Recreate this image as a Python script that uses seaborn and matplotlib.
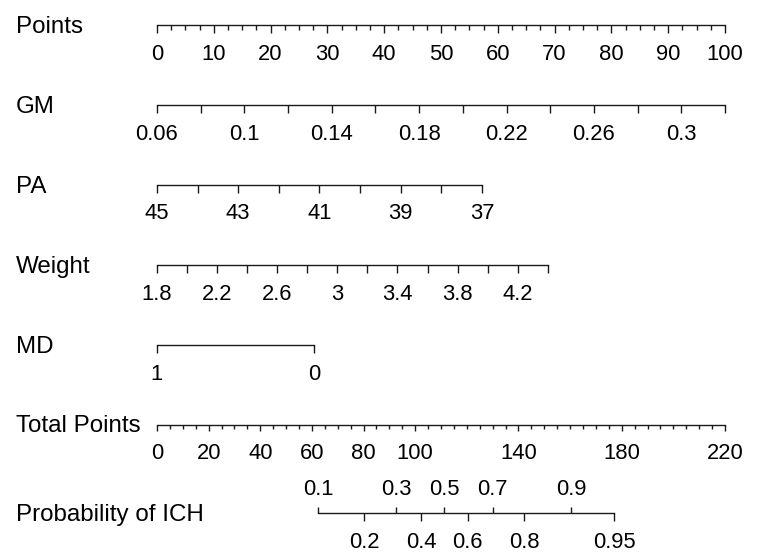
import numpy as np
import matplotlib
matplotlib.use("Agg")
import matplotlib.pyplot as plt
from matplotlib.ticker import FixedLocator, FixedFormatter
import seaborn as sns

# ---------------- data ----------------
points_ticks = [0, 2.5, 5, 7.5, 10, 12.5, 15, 17.5, 20, 22.5, 25, 27.5, 30, 32.5, 35, 37.5,
                40, 42.5, 45, 47.5, 50, 52.5, 55, 57.5, 60, 62.5, 65, 67.5, 70, 72.5, 75, 77.5,
                80, 82.5, 85, 87.5, 90, 92.5, 95, 97.5, 100]
points_labels = [0, 10, 20, 30, 40, 50, 60, 70, 80, 90, 100]

gm_ticks = [0.06, 0.08, 0.10, 0.12, 0.14, 0.16, 0.18, 0.20, 0.22, 0.24, 0.26, 0.28, 0.30, 0.32]
gm_labels = [0.06, 0.1, 0.14, 0.18, 0.22, 0.26, 0.3]
gm_points = [0, 100]          # points at first / last tick

pa_ticks = [45, 44, 43, 42, 41, 40, 39, 38, 37]
pa_labels = [45, 43, 41, 39, 37]
pa_points = [0, 57.2]

weight_ticks = [1.8, 2.0, 2.2, 2.4, 2.6, 2.8, 3.0, 3.2, 3.4, 3.6, 3.8, 4.0, 4.2, 4.4]
weight_labels = [1.8, 2.2, 2.6, 3, 3.4, 3.8, 4.2]
weight_points = [0, 68.8]

md_ticks = [1, 0]
md_labels = [1, 0]
md_points = [0, 27.6]

total_ticks = [0, 5, 10, 15, 20, 25, 30, 35, 40, 45, 50, 55, 60, 65, 70, 75, 80, 85, 90, 95,
               100, 105, 110, 115, 120, 125, 130, 135, 140, 145, 150, 155, 160, 165, 170, 175,
               180, 185, 190, 195, 200, 205, 210, 215, 220]
total_labels = [0, 20, 40, 60, 80, 100, 140, 180, 220]

prob_up = [0.1, 0.3, 0.5, 0.7, 0.9]
prob_up_points = [62.5, 92.6, 111.3, 130.0, 160.4]
prob_down = [0.2, 0.4, 0.6, 0.8, 0.95]
prob_down_points = [80.2, 102.3, 120.3, 142.3, 177.0]

row_names = ["Points", "GM", "PA", "Weight", "MD", "Total Points", "Probability of ICH"]

# ---------------- style ----------------
sns.set_theme(style="white")
plt.rcParams['font.family'] = ['Liberation Sans', 'DejaVu Sans']

W, H, DPI = 758, 560, 100
AX_L, AX_W = 157 / W, 568 / W
C = "#1a1a1a"
LW = 1.0
TICK_FS = 15.8
LAB_FS = 17.4


def px(v):
    return v * 72.0 / DPI


fig = plt.figure(figsize=(W / DPI, H / DPI), dpi=DPI)
fig.patch.set_facecolor("white")


def base_axes(y_px):
    ax = fig.add_axes([AX_L, 1 - y_px / H, AX_W, 1e-4])
    ax.patch.set_alpha(0)
    ax.set_yticks([])
    sns.despine(ax=ax, left=True, top=True, right=True, bottom=False)
    ax.spines['bottom'].set_linewidth(LW)
    ax.spines['bottom'].set_color(C)
    return ax


def style_ticks(ax, which_side, major_len, minor_len, offset):
    side = dict(bottom=True, top=False, labelbottom=True, labeltop=False) if which_side == 'bottom' \
        else dict(bottom=False, top=True, labelbottom=False, labeltop=True)
    ax.tick_params(axis='x', which='major', direction='out', length=px(major_len), width=LW,
                   color=C, pad=px(offset - major_len), labelsize=TICK_FS, labelcolor="black", **side)
    ax.tick_params(axis='x', which='minor', direction='out', length=px(minor_len), width=LW,
                   color=C, **side)


def variable_axis(y_px, ticks, labels, pts, major_len=8, minor_len=8, xmax_points=100.0):
    ax = base_axes(y_px)
    v0, v1 = ticks[0], ticks[-1]
    p0, p1 = pts
    unit = (v1 - v0) / (p1 - p0)
    ax.set_xlim(v0 - p0 * unit, v0 + (xmax_points - p0) * unit)
    ax.spines['bottom'].set_bounds(min(v0, v1), max(v0, v1))
    ax.xaxis.set_major_locator(FixedLocator(labels))
    ax.xaxis.set_major_formatter(FixedFormatter([f"{v:g}" for v in labels]))
    ax.xaxis.set_minor_locator(FixedLocator(ticks))
    style_ticks(ax, 'bottom', major_len, minor_len, 18.5)
    return ax


row_y = [25, 105, 185, 265, 345, 424.5, 513]

# Points
variable_axis(row_y[0], points_ticks, points_labels, [points_ticks[0], points_ticks[-1]],
              major_len=8, minor_len=5)
# GM, PA, Weight, MD
variable_axis(row_y[1], gm_ticks, gm_labels, gm_points)
variable_axis(row_y[2], pa_ticks, pa_labels, pa_points)
variable_axis(row_y[3], weight_ticks, weight_labels, weight_points)
variable_axis(row_y[4], md_ticks, md_labels, md_points)

# Total points
ax_t = base_axes(row_y[5])
ax_t.set_xlim(0, 220)
ax_t.spines['bottom'].set_bounds(total_ticks[0], total_ticks[-1])
ax_t.xaxis.set_major_locator(FixedLocator(total_labels))
ax_t.xaxis.set_major_formatter(FixedFormatter([f"{v:g}" for v in total_labels]))
ax_t.xaxis.set_minor_locator(FixedLocator(total_ticks))
style_ticks(ax_t, 'bottom', 6, 3.5, 18.5)

# Probability
ax_p = base_axes(row_y[6])
ax_p.set_xlim(0, 220)
ax_p.spines['bottom'].set_bounds(prob_up_points[0], prob_down_points[-1])
ax_p.xaxis.set_major_locator(FixedLocator(prob_down_points))
ax_p.xaxis.set_major_formatter(FixedFormatter([f"{v:g}" for v in prob_down]))
ax_p.xaxis.set_minor_locator(FixedLocator([]))
style_ticks(ax_p, 'bottom', 8, 8, 19.5)

ax_u = ax_p.twiny()
ax_u.patch.set_alpha(0)
ax_u.set_xlim(0, 220)
for s in ax_u.spines.values():
    s.set_visible(False)
ax_u.xaxis.set_major_locator(FixedLocator(prob_up_points))
ax_u.xaxis.set_major_formatter(FixedFormatter([f"{v:g}" for v in prob_up]))
ax_u.xaxis.set_minor_locator(FixedLocator([]))
style_ticks(ax_u, 'top', 6, 6, 12.5)

# Row labels
for name, y in zip(row_names, row_y):
    fig.text(16 / W, 1 - (y + 8) / H, name, ha='left', va='baseline',
             fontsize=LAB_FS, color="black")

fig.savefig("out.png", dpi=DPI, facecolor="white")
